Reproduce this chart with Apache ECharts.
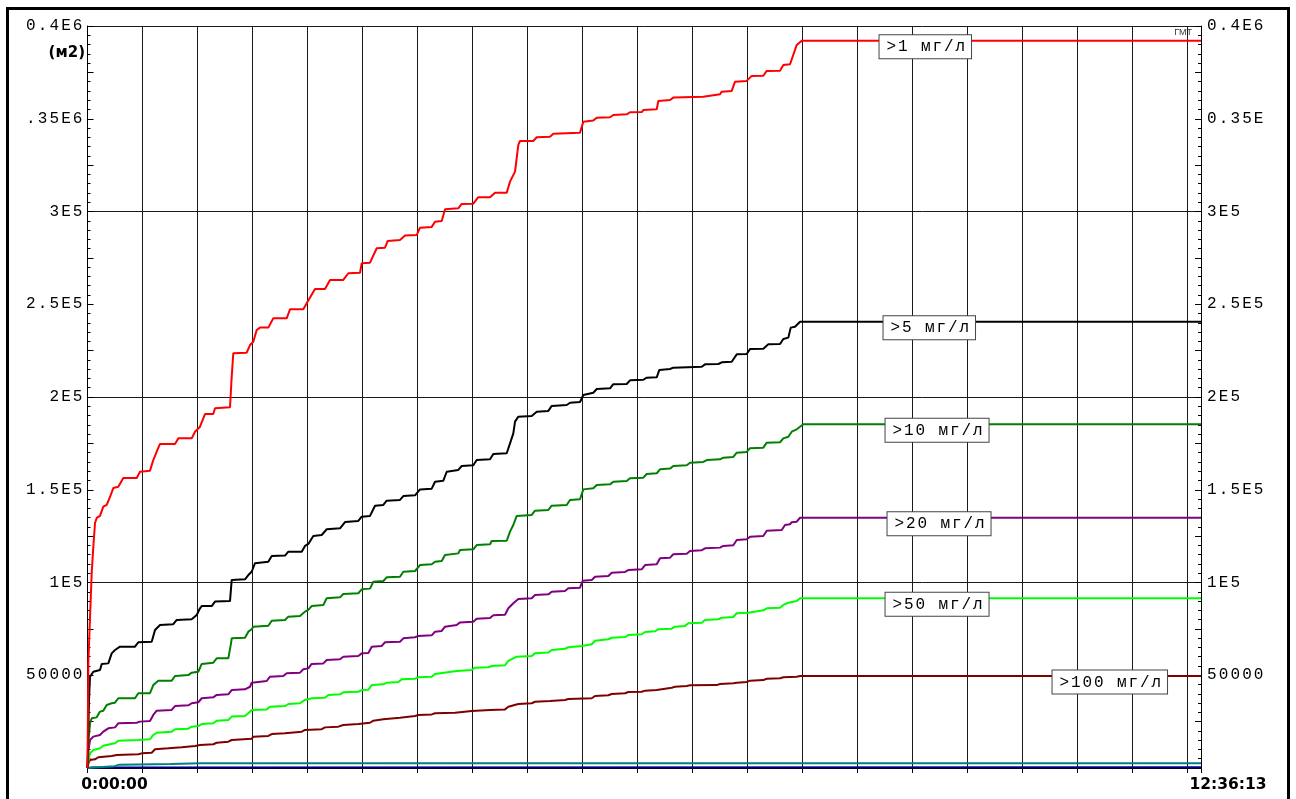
<!DOCTYPE html>
<html>
<head>
<meta charset="utf-8">
<script src="https://cdn.jsdelivr.net/npm/echarts@6/dist/echarts.min.js"></script>
<style>
  html, body { margin: 0; padding: 0; background: #fff; }
  #chart { width: 1296px; height: 799px; }
</style>
</head>
<body>
<div id="chart"></div>
<script>
// Time axis: seconds from start of the run (0:00:00 .. 12:36:13)
const timeEnd = 45373;
const timeLabels = ['0:00:00', '12:36:13'];

// Y ticks and their captions on both sides
const yTickValues = [50000, 100000, 150000, 200000, 250000, 300000, 350000, 400000];
const leftTickLabels = ['50000', '1E5', '1.5E5', '2E5', '2.5E5', '3E5', '.35E6', '0.4E6'];
const rightTickLabels = ['50000', '1E5', '1.5E5', '2E5', '2.5E5', '3E5', '0.35E', '0.4E6'];

// Area above threshold concentration, m2, as [seconds, m2]
const area1 = [[0,0],[33,56600],[171,105100],[236,119100],[306,132100],[375,134800],[509,135900],[644,140900],[782,141800],[917,146100],[1051,150900],[1255,151600],[1459,156300],[2005,156300],[2139,159700],[2547,160300],[2681,166000],[2820,170500],[2954,174700],[3566,174700],[3700,177700],[4246,177700],[4381,181300],[4584,184000],[4788,190800],[5126,190800],[5196,193900],[5807,194500],[5868,209200],[5941,223600],[6487,223900],[6622,228000],[6756,229800],[6895,236100],[7029,237400],[7368,237400],[7571,242400],[8117,242400],[8252,247300],[8794,247300],[8932,250500],[9271,258200],[9678,258200],[9882,263100],[10424,263100],[10628,266700],[11104,267000],[11174,272100],[11512,272400],[11785,280200],[12123,280500],[12233,284100],[12734,284600],[12938,287000],[13415,287300],[13549,291300],[14026,291700],[14161,294500],[14434,294900],[14568,301200],[15110,301700],[15249,304100],[15721,304200],[15925,307700],[16402,307700],[16606,310100],[17082,310100],[17217,316100],[17421,321500],[17555,335900],[17624,338000],[18166,338000],[18305,340000],[18847,340300],[18981,341900],[20069,342500],[20204,348400],[20611,349000],[20750,350600],[21292,350800],[21426,352000],[21972,352400],[22107,353500],[22584,353600],[22649,354700],[23195,355100],[23260,359600],[23737,360100],[23871,361400],[25094,361900],[25163,362800],[25774,363200],[25844,364600],[26251,365000],[26386,370000],[26862,370400],[27066,373100],[27539,373200],[27677,375800],[28219,375900],[28354,379000],[28627,379400],[28900,389800],[29104,392100],[45373,392100]];

const area5 = [[0,0],[61,36700],[102,49200],[236,51900],[509,52800],[579,56100],[848,56400],[986,61800],[1121,63600],[1324,65400],[1936,65400],[2070,67800],[2616,68100],[2751,74400],[2954,77100],[3496,77500],[3635,79800],[4246,80200],[4450,82500],[4584,86100],[4654,87300],[5061,87300],[5196,89700],[5807,90000],[5876,101400],[6418,101700],[6553,104000],[6691,105800],[6826,110400],[6895,111200],[7368,111200],[7506,114300],[8048,114500],[8183,116600],[8729,116600],[8863,119700],[8998,120800],[9201,125100],[9544,125600],[9747,128700],[10289,129200],[10493,132600],[11035,133200],[11174,135500],[11512,135900],[11716,141400],[12054,141800],[12192,144100],[12734,144500],[12869,146600],[13346,147000],[13549,150200],[14026,150600],[14161,154300],[14499,154900],[14637,159700],[15110,160700],[15249,162800],[15721,163200],[15860,166000],[16402,166400],[16536,169300],[17082,169700],[17217,175000],[17351,180400],[17421,186700],[17555,189400],[18101,189800],[18305,192100],[18778,192500],[18916,195200],[19527,195700],[19662,196900],[20069,197300],[20204,201100],[20273,202000],[20611,202300],[20750,204300],[21292,204700],[21426,206900],[21972,207000],[22107,209000],[22649,209300],[22787,210400],[23195,210600],[23301,214600],[23737,215100],[23871,215800],[25029,216300],[25163,217600],[25705,217800],[25844,218700],[26251,219000],[26455,223000],[26862,223200],[26997,225900],[27539,226000],[27743,228400],[28219,228600],[28354,231300],[28558,232000],[28655,237400],[28831,237900],[29034,240600],[45373,240600]];

const area10 = [[0,0],[41,15100],[102,24100],[171,26800],[375,27300],[509,30400],[644,30900],[782,34000],[986,34900],[1121,35200],[1255,37600],[1936,37600],[2070,40300],[2547,40300],[2681,44700],[2885,47100],[3431,47100],[3566,49600],[4108,50100],[4246,51400],[4515,51900],[4654,56100],[5126,56800],[5265,59100],[5738,59100],[5848,67200],[5876,69900],[6418,70200],[6553,73500],[6691,74800],[6756,76200],[7368,76700],[7506,79400],[8048,79800],[8183,81600],[8659,81900],[8863,84300],[8998,85200],[9136,87300],[9609,87900],[9747,91500],[10289,92000],[10424,93800],[11035,94200],[11174,96300],[11512,96700],[11646,100400],[12054,100800],[12192,102800],[12734,103100],[12869,105800],[13346,106200],[13549,109400],[14026,109800],[14161,111200],[14434,111600],[14568,114800],[15110,115700],[15179,117500],[15721,117900],[15860,120200],[16402,120600],[16471,122400],[17082,122500],[17217,127400],[17351,131000],[17490,135900],[18101,136400],[18236,138700],[18778,139100],[18916,141400],[19527,141800],[19662,144500],[20069,144900],[20204,150200],[20611,150800],[20750,152600],[21292,152900],[21426,154300],[21972,154700],[22107,156200],[22649,156500],[22787,158500],[23195,158900],[23329,161000],[23737,161400],[23871,162800],[24417,163200],[24552,164600],[25094,165000],[25232,166000],[25774,166400],[25909,167300],[26316,167700],[26455,170000],[26862,170400],[26997,172400],[27539,172700],[27677,175400],[28219,175600],[28354,177700],[28558,178600],[28696,181300],[28900,182600],[29169,185300],[45373,185300]];

const area20 = [[0,0],[41,9700],[102,15100],[236,16900],[509,17800],[644,19600],[848,21400],[1121,21900],[1255,24100],[2005,24400],[2139,25000],[2547,25300],[2681,28600],[2820,30900],[3431,31300],[3566,33400],[4108,33800],[4246,34900],[4515,35400],[4654,37600],[5126,38100],[5265,39400],[5738,39700],[5876,42000],[6418,42400],[6622,43800],[6691,46000],[6756,46500],[7302,46900],[7437,49200],[7979,49600],[8117,51100],[8659,51400],[8794,53200],[8998,53700],[9136,56100],[9609,56400],[9747,58200],[10289,58600],[10424,60000],[11035,60400],[11174,61800],[11443,62000],[11581,65400],[11989,65800],[12123,67800],[12734,68100],[12869,69900],[13346,70500],[13480,71200],[14026,71500],[14161,73500],[14434,73900],[14568,76200],[15045,77100],[15179,78500],[15721,78900],[15860,80500],[16402,80900],[16536,82300],[17013,82600],[17148,86100],[17351,88800],[17555,91100],[18101,91500],[18236,93300],[18778,93600],[18916,95000],[19458,95400],[19593,96900],[20069,97200],[20179,101000],[20546,101400],[20681,103100],[21223,103500],[21361,105300],[21903,105700],[22038,106700],[22584,107100],[22718,109400],[23195,109800],[23329,113100],[23737,113400],[23871,115200],[24417,115500],[24552,117000],[25029,117400],[25163,118400],[25774,118800],[25909,119700],[26316,120100],[26455,122900],[26862,123300],[26997,124700],[27539,125100],[27677,127900],[28289,128300],[28423,131000],[28627,131400],[28696,132500],[28900,132800],[29034,134900],[45373,134900]];

const area50 = [[0,0],[41,4300],[102,7900],[236,9700],[509,10600],[644,12000],[917,12800],[1121,13300],[1255,14700],[2070,15100],[2547,15500],[2681,17800],[2820,19000],[3431,19600],[3566,20900],[4108,21200],[4246,22300],[4515,22600],[4654,23700],[5126,24100],[5265,25500],[5738,25900],[5876,27700],[6418,28000],[6553,29500],[6691,31300],[7302,31600],[7437,33000],[8048,33400],[8183,34500],[8659,34900],[8863,36700],[9136,37600],[9678,37900],[9813,39400],[10289,39700],[10424,40800],[11035,41100],[11174,42000],[11443,42200],[11581,44700],[12054,45100],[12192,46000],[12665,46400],[12804,47800],[13346,48100],[13480,48900],[14026,49200],[14161,50700],[15045,52300],[15656,52800],[15791,54100],[16333,54300],[16471,55000],[17013,55400],[17148,57800],[17490,60000],[18101,60400],[18236,61800],[18778,62200],[18916,63600],[19458,64300],[19593,65100],[20139,65800],[20204,66300],[20546,66700],[20681,68600],[21223,69400],[21361,70200],[21903,70600],[22038,71700],[22584,72100],[22718,73300],[23126,73700],[23260,74800],[23806,75100],[23941,76200],[24348,76600],[24483,78000],[25029,78300],[25163,79800],[25705,80200],[25844,81000],[26316,81400],[26455,83400],[26928,83700],[26997,84600],[27539,85000],[27677,86100],[28219,86400],[28354,87900],[28558,89100],[28900,90000],[29034,91500],[45373,91500]];

const area100 = [[0,0],[41,2700],[102,4300],[306,4700],[440,5800],[986,6500],[1190,7000],[2070,7400],[2209,7900],[2616,8200],[2751,10100],[3293,10600],[3839,11200],[4381,11900],[4584,12400],[5126,12800],[5265,13600],[5738,14200],[5876,15100],[6691,15800],[6756,16900],[7368,17300],[7506,18300],[8048,18700],[8729,19600],[8863,20500],[9544,20900],[9678,21900],[10220,22300],[10424,23200],[11035,23700],[11512,24400],[11646,25500],[12054,26300],[12734,27100],[13346,28000],[13480,28600],[14026,28900],[14161,29500],[14976,29800],[15045,30400],[15656,30700],[16402,31300],[17013,31600],[17148,33000],[17555,34500],[18101,34900],[18236,35700],[18847,36100],[19458,36700],[19593,37200],[20546,37600],[20681,38800],[21223,39200],[21361,39900],[21903,40300],[22038,41000],[22584,41100],[22718,41700],[23195,42000],[23260,43000],[23806,43300],[23941,43800],[24417,44200],[24552,44600],[25640,44700],[25774,45300],[26316,45700],[26455,46000],[26862,46400],[26997,47100],[27539,47400],[27677,48100],[28219,48400],[28354,48900],[28900,49200],[29034,49600],[45373,49600]];

const areaTeal = [[0,0],[600,600],[1100,1000],[1300,1800],[3400,2200],[4600,2500],[45373,2500]];
const areaNavy = [[0,0],[200,300],[45373,400]];

// Curve captions and where along the time axis their boxes sit
const captions = ['>1 мг/л', '>5 мг/л', '>10 мг/л', '>20 мг/л', '>50 мг/л', '>100 мг/л'];
const captionTimes = [32294, 32457, 32539, 32620, 32539, 39344];

const MONO = 'Liberation Mono';
const PITCH = 11.7;

// spread characters on a fixed pitch, like the instrument's plotter font
function spaced(s) {
  return s.split('').map(ch => '{c|' + ch + '}').join('');
}
const monoRich = {
  c: { width: PITCH, align: 'center', fontFamily: MONO, fontSize: 16, color: '#000', lineHeight: 17 }
};
const tagRich = {
  c: { width: 11.5, align: 'center', fontFamily: MONO, fontSize: 16, color: '#000', lineHeight: 16 }
};

function tickCaption(list, v) {
  const i = yTickValues.indexOf(v);
  return i < 0 ? '' : spaced(list[i]);
}

function curve(data, color, captionIdx, z) {
  const s = {
    type: 'line',
    data: data,
    showSymbol: false,
    symbol: 'none',
    lineStyle: { color: color, width: 2 },
    itemStyle: { color: color },
    z: z,
    silent: true
  };
  if (captionIdx !== null) {
    const last = data[data.length - 1][1];
    s.markPoint = {
      z: 20,
      silent: true,
      symbol: 'rect',
      symbolSize: 1,
      itemStyle: { color: 'rgba(0,0,0,0)' },
      data: [{ coord: [captionTimes[captionIdx], last] }],
      label: {
        show: true,
        position: [0, -5],
        formatter: () => spaced(captions[captionIdx]),
        backgroundColor: '#fff',
        borderColor: '#444',
        borderWidth: 1,
        padding: [4, 5, 3, 6],
        rich: tagRich
      }
    };
  }
  return s;
}

const chart = echarts.init(document.getElementById('chart'), null, { renderer: 'canvas' });

const gridLineColor = '#1a1a1a';

chart.setOption({
  animation: false,
  backgroundColor: '#fff',
  grid: { left: 87.5, top: 26, width: 1113.5, height: 742, containLabel: false },
  xAxis: {
    type: 'value',
    min: 0,
    max: timeEnd,
    interval: 2240,
    axisLine: { show: true, onZero: false, lineStyle: { color: '#000', width: 1 } },
    axisTick: { show: true, inside: false, length: 5, lineStyle: { color: '#000' } },
    splitLine: { show: true, lineStyle: { color: gridLineColor, width: 1 } },
    axisLabel: {
      show: true,
      margin: 9,
      showMinLabel: true,
      showMaxLabel: true,
      hideOverlap: false,
      formatter: v => {
        if (v === 0) return '{t|' + timeLabels[0] + '}';
        if (v === timeEnd) return '{t|' + timeLabels[1] + '}';
        return '';
      },
      rich: {
        t: { fontFamily: 'DejaVu Sans', fontWeight: 'bold', fontSize: 15.5, color: '#000', padding: [0, 0, 0, 54] }
      }
    }
  },
  yAxis: [
    {
      type: 'value', position: 'left', min: 0, max: 400000, interval: 50000,
      axisLine: { show: true, onZero: false, lineStyle: { color: '#000', width: 1 } },
      axisTick: { show: true, inside: true, length: 5, lineStyle: { color: '#000' } },
      minorTick: { show: true, splitNumber: 10, length: 3, lineStyle: { color: '#000' } },
      splitLine: { show: false },
      axisLabel: { margin: 4, formatter: v => tickCaption(leftTickLabels, v), rich: monoRich }
    },
    {
      type: 'value', position: 'right', min: 0, max: 400000, interval: 50000,
      axisLine: { show: true, onZero: false, lineStyle: { color: '#000', width: 1 } },
      axisTick: { show: true, inside: true, length: 5, lineStyle: { color: '#000' } },
      minorTick: { show: true, splitNumber: 10, length: 3, lineStyle: { color: '#000' } },
      splitLine: { show: false },
      axisLabel: { margin: 5, formatter: v => tickCaption(rightTickLabels, v), rich: monoRich }
    },
    {
      // half-step ticks on the left scale
      type: 'value', position: 'left', min: 0, max: 400000, interval: 25000,
      axisLine: { show: false },
      axisTick: { show: true, inside: true, length: 6, lineStyle: { color: '#000' } },
      axisLabel: { show: false },
      splitLine: { show: false }
    },
    {
      // half-step ticks on the right scale
      type: 'value', position: 'right', min: 0, max: 400000, interval: 25000,
      axisLine: { show: false },
      axisTick: { show: true, inside: true, length: 6, lineStyle: { color: '#000' } },
      axisLabel: { show: false },
      splitLine: { show: false }
    },
    {
      // horizontal grid every 1E5
      type: 'value', position: 'left', min: 0, max: 400000, interval: 100000,
      axisLine: { show: false },
      axisTick: { show: false },
      axisLabel: { show: false },
      splitLine: { show: true, lineStyle: { color: gridLineColor, width: 1 } }
    }
  ],
  series: [
    curve(areaNavy, '#000080', null, 2),
    curve(areaTeal, '#008080', null, 2),
    curve(area100, '#800000', 5, 3),
    curve(area50, '#00ff00', 4, 3),
    curve(area20, '#800080', 3, 3),
    curve(area10, '#008000', 2, 3),
    curve(area5, '#000000', 1, 3),
    curve(area1, '#ff0000', 0, 4)
  ],
  graphic: [
    {
      type: 'rect',
      silent: true,
      shape: { x: 7.5, y: 8.5, width: 1281, height: 820 },
      style: { fill: 'none', stroke: '#000', lineWidth: 3 },
      z: 100
    },
    {
      type: 'text',
      silent: true,
      style: {
        text: '(м2)', x: 85, y: 53, align: 'right', verticalAlign: 'middle',
        font: 'bold 15px "DejaVu Sans"', fill: '#000'
      }
    },
    {
      type: 'text',
      silent: true,
      style: {
        text: 'ГМТ', x: 1192, y: 33, align: 'right', verticalAlign: 'middle',
        font: '9px "Liberation Sans"', fill: '#333'
      }
    }
  ]
});
</script>
</body>
</html>
